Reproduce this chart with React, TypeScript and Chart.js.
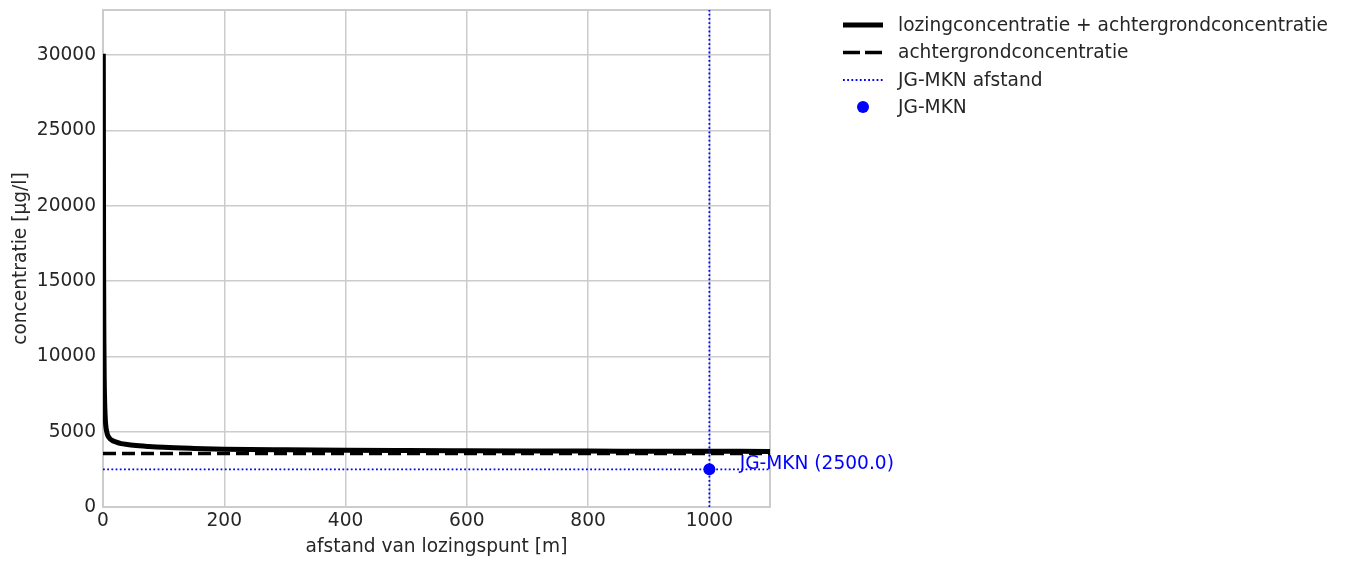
import React, { useEffect, useRef } from 'react';
import { Chart, registerables } from 'chart.js';

Chart.register(...registerables);

// ---- data ----
const distance = [0.5, 1, 1.5, 2, 3, 4, 5, 7, 10, 15, 20, 30, 40, 50, 75, 100, 150, 200, 300, 400, 500, 600, 700, 800, 900, 1000, 1100];
const totalConc = [30100, 16000, 11000, 8500, 6600, 5700, 5250, 4850, 4600, 4420, 4340, 4210, 4150, 4100, 4020, 3960, 3890, 3840, 3795, 3768, 3750, 3735, 3722, 3712, 3704, 3697, 3690];
const backgroundConc = 3560;
const jgMkn = 2500;
const jgMknDistance = 1000;
const xLimits = [0, 1100];
const yLimits = [0, 33000];
const xTicks = [0, 200, 400, 600, 800, 1000];
const yTicks = [0, 5000, 10000, 15000, 20000, 25000, 30000];
const legendLabels = [
  'lozingconcentratie + achtergrondconcentratie',
  'achtergrondconcentratie',
  'JG-MKN afstand',
  'JG-MKN',
];
const annotationText = `JG-MKN (${jgMkn.toFixed(1)})`;
const xTitle = 'afstand van lozingspunt [m]';
const yTitle = 'concentratie [µg/l]';

const TEXT = '#262626';
const GRID = '#cccccc';
const BLUE = '#0000ff';
const FONT = 'DejaVu Sans';
const FS = 18.6;

const framePlugin = {
  id: 'frame',
  beforeDatasetsDraw(chart: any) {
    const { ctx, chartArea: a } = chart;
    ctx.save();
    ctx.strokeStyle = GRID;
    ctx.lineWidth = 2;
    ctx.strokeRect(a.left, a.top, a.right - a.left, a.bottom - a.top);
    ctx.restore();
  },
};

const extrasPlugin = {
  id: 'extras',
  afterDraw(chart: any) {
    const { ctx } = chart;
    const xs = chart.scales.x;
    const ys = chart.scales.y;
    ctx.save();
    // annotation
    ctx.font = `${FS}px "${FONT}"`;
    ctx.fillStyle = BLUE;
    ctx.textAlign = 'left';
    ctx.textBaseline = 'alphabetic';
    ctx.fillText(annotationText, xs.getPixelForValue(1050), ys.getPixelForValue(jgMkn));

    // legend
    const x0 = 843, x1 = 883, tx = 898;
    const rows = [25, 52.5, 80, 107];
    ctx.lineCap = 'butt';
    ctx.strokeStyle = '#000';
    ctx.lineWidth = 5;
    ctx.setLineDash([]);
    ctx.beginPath(); ctx.moveTo(x0, rows[0]); ctx.lineTo(x1, rows[0]); ctx.stroke();
    ctx.lineWidth = 3.5;
    ctx.setLineDash([17, 5]);
    ctx.beginPath(); ctx.moveTo(x0, rows[1]); ctx.lineTo(x1, rows[1]); ctx.stroke();
    ctx.strokeStyle = BLUE;
    ctx.lineWidth = 1.8;
    ctx.setLineDash([1.8, 2.4]);
    ctx.beginPath(); ctx.moveTo(x0, rows[2]); ctx.lineTo(x1, rows[2]); ctx.stroke();
    ctx.setLineDash([]);
    ctx.fillStyle = BLUE;
    ctx.beginPath(); ctx.arc((x0 + x1) / 2, rows[3], 6, 0, Math.PI * 2); ctx.fill();
    ctx.fillStyle = TEXT;
    ctx.textBaseline = 'middle';
    legendLabels.forEach((t, i) => ctx.fillText(t, tx, rows[i] + 1));
    ctx.restore();
  },
};

export default function App() {
  const ref = useRef<HTMLCanvasElement | null>(null);
  useEffect(() => {
    if (!ref.current) return;
    Chart.defaults.font.family = FONT;
    const chart = new Chart(ref.current, {
      type: 'line',
      data: {
        datasets: [
          {
            label: legendLabels[0],
            data: distance.map((d, i) => ({ x: d, y: totalConc[i] })),
            borderColor: '#000',
            borderWidth: 5,
            pointRadius: 0,
            cubicInterpolationMode: 'monotone',
            order: 5,
            clip: 0,
          },
          {
            label: legendLabels[1],
            data: [{ x: xLimits[0], y: backgroundConc }, { x: xLimits[1], y: backgroundConc }],
            borderColor: '#000',
            borderWidth: 3.5,
            borderDash: [13, 6],
            pointRadius: 0,
            order: 4,
            clip: 0,
          },
          {
            label: legendLabels[2],
            data: [{ x: xLimits[0], y: jgMkn }, { x: xLimits[1], y: jgMkn }],
            borderColor: BLUE,
            borderWidth: 1.8,
            borderDash: [1.8, 2.4],
            pointRadius: 0,
            order: 3,
            clip: 0,
          },
          {
            label: legendLabels[2] + ' v',
            data: [{ x: jgMknDistance, y: yLimits[0] }, { x: jgMknDistance, y: yLimits[1] }],
            borderColor: BLUE,
            borderWidth: 1.8,
            borderDash: [1.8, 2.4],
            pointRadius: 0,
            order: 2,
            clip: 0,
          },
          {
            label: legendLabels[3],
            data: [{ x: jgMknDistance, y: jgMkn }],
            borderColor: BLUE,
            backgroundColor: BLUE,
            showLine: false,
            pointRadius: 6,
            pointBorderWidth: 0,
            order: 1,
            clip: 0,
          },
        ],
      },
      options: {
        responsive: false,
        animation: false,
        layout: { padding: { left: 0, top: 10, right: 578, bottom: 0 } },
        plugins: { legend: { display: false }, tooltip: { enabled: false } },
        scales: {
          x: {
            type: 'linear',
            min: xLimits[0],
            max: xLimits[1],
            afterBuildTicks: (axis: any) => { axis.ticks = xTicks.map((v) => ({ value: v })); },
            afterFit: (axis: any) => { axis.height = 55; axis.paddingLeft = 0; axis.paddingRight = 0; },
            grid: { color: GRID, lineWidth: 1.5, drawTicks: false },
            border: { display: false },
            ticks: { color: TEXT, font: { size: FS }, padding: 3, maxRotation: 0, callback: (v: any) => String(v) },
            title: { display: true, text: xTitle, color: TEXT, font: { size: FS }, padding: { top: 0, bottom: 4 } },
          },
          y: {
            type: 'linear',
            min: yLimits[0],
            max: yLimits[1],
            afterBuildTicks: (axis: any) => { axis.ticks = yTicks.map((v) => ({ value: v })); },
            afterFit: (axis: any) => { axis.width = 103; axis.paddingTop = 0; axis.paddingBottom = 0; },
            grid: { color: GRID, lineWidth: 1.5, drawTicks: false },
            border: { display: false },
            ticks: { color: TEXT, font: { size: FS }, padding: 7, callback: (v: any) => String(v) },
            title: { display: true, text: yTitle, color: TEXT, font: { size: FS }, padding: { top: 10, bottom: 0 } },
          },
        },
      },
      plugins: [framePlugin, extrasPlugin],
    });
    return () => chart.destroy();
  }, []);
  return (
    <div style={{ position: 'absolute', left: 0, top: 0, width: 1348, height: 562, background: '#fff' }}>
      <canvas ref={ref} width={1348} height={562} style={{ display: 'block' }} />
    </div>
  );
}
